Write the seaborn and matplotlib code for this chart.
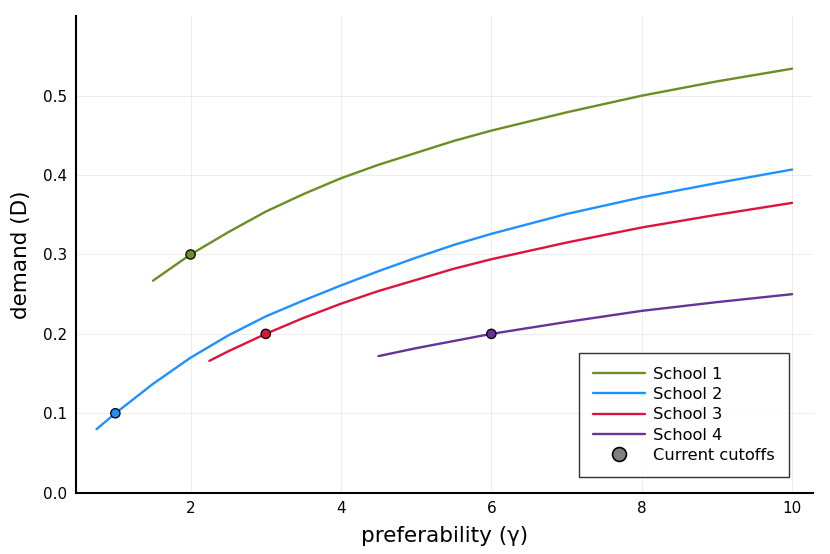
import numpy as np
import pandas as pd
import matplotlib
matplotlib.use('Agg')
import matplotlib.pyplot as plt
from matplotlib.lines import Line2D
import seaborn as sns

# demand curves
school_names = ['School 1', 'School 2', 'School 3', 'School 4']
school_colors = ['#6B8E23', '#1E90FF', '#DC143C', '#663399']

gamma_1 = [1.5, 2.0, 2.5, 3.0, 3.5, 4.0, 4.5, 5.0, 5.5, 6.0, 7.0, 8.0, 9.0, 10.0]
demand_1 = [0.267, 0.300, 0.328, 0.354, 0.376, 0.396, 0.413, 0.428, 0.443, 0.456, 0.479, 0.500, 0.518, 0.534]

gamma_2 = [0.75, 1.0, 1.5, 2.0, 2.5, 3.0, 3.5, 4.0, 4.5, 5.0, 5.5, 6.0, 7.0, 8.0, 9.0, 10.0]
demand_2 = [0.080, 0.100, 0.137, 0.170, 0.198, 0.222, 0.242, 0.261, 0.279, 0.296, 0.312, 0.326, 0.351, 0.372, 0.390, 0.407]

gamma_3 = [2.25, 2.5, 3.0, 3.5, 4.0, 4.5, 5.0, 5.5, 6.0, 7.0, 8.0, 9.0, 10.0]
demand_3 = [0.166, 0.178, 0.200, 0.220, 0.238, 0.254, 0.268, 0.282, 0.294, 0.315, 0.334, 0.350, 0.365]

gamma_4 = [4.5, 5.0, 5.5, 6.0, 7.0, 8.0, 9.0, 10.0]
demand_4 = [0.172, 0.182, 0.191, 0.200, 0.215, 0.229, 0.240, 0.250]

# current cutoffs, one per school
cutoff_gamma = [2.0, 1.0, 3.0, 6.0]
cutoff_demand = [0.3, 0.1, 0.2, 0.2]

# long table for seaborn
frames = []
for name, gx, dy in zip(school_names,
                        [gamma_1, gamma_2, gamma_3, gamma_4],
                        [demand_1, demand_2, demand_3, demand_4]):
    frames.append(pd.DataFrame({'gamma': gx, 'demand': dy, 'school': name}))
curves = pd.concat(frames, ignore_index=True)
cutoffs = pd.DataFrame({'gamma': cutoff_gamma, 'demand': cutoff_demand, 'school': school_names})

sns.set_style('white')
plt.rcParams['font.family'] = ['DejaVu Sans']
plt.rcParams['text.color'] = 'black'
plt.rcParams['axes.labelcolor'] = 'black'

fig = plt.figure(figsize=(8.3, 5.54), dpi=100)
ax = fig.add_axes([0.0912, 0.1107, 0.8883, 0.8599])

palette = dict(zip(school_names, school_colors))

# curves
sns.lineplot(data=curves, x='gamma', y='demand', hue='school', palette=palette,
             estimator=None, sort=False, linewidth=1.7, legend=False, ax=ax)

# cutoff markers
sns.scatterplot(data=cutoffs, x='gamma', y='demand', hue='school', palette=palette,
                s=45, edgecolor='black', linewidth=0.9, legend=False, zorder=5, ax=ax)

ax.set_xlim(0.4725, 10.2775)
ax.set_ylim(0, 0.6)
ax.set_xticks([2, 4, 6, 8, 10])
ax.set_yticks([0.0, 0.1, 0.2, 0.3, 0.4, 0.5])
ax.set_yticklabels(['0.0', '0.1', '0.2', '0.3', '0.4', '0.5'])

ax.grid(True, color='black', alpha=0.1, linewidth=0.5)
sns.despine(ax=ax)
for side in ['left', 'bottom']:
    ax.spines[side].set_color('black')
    ax.spines[side].set_linewidth(1.5)
ax.tick_params(direction='in', length=4, width=1, labelsize=11, colors='black', pad=6)

ax.set_xlabel('preferability (γ)', fontsize=15.5, labelpad=7)
ax.set_ylabel('demand (D)', fontsize=15.5, labelpad=9)

# legend
handles = [Line2D([0], [0], color=c, linewidth=1.7) for c in school_colors]
handles.append(Line2D([0], [0], marker='o', linestyle='none', markersize=10,
                      markerfacecolor='#808080', markeredgecolor='black', markeredgewidth=1.2))
labels = school_names + ['Current cutoffs']
leg = ax.legend(handles, labels, loc='lower right', bbox_to_anchor=(0.9675, 0.033),
                borderaxespad=0, fontsize=11.7, frameon=True, fancybox=False,
                labelspacing=0.33, handlelength=3.2, handletextpad=0.55, borderpad=0.85)
leg.get_frame().set_edgecolor('black')
leg.get_frame().set_linewidth(1.0)

plt.savefig('out.png', dpi=100)
plt.close()
